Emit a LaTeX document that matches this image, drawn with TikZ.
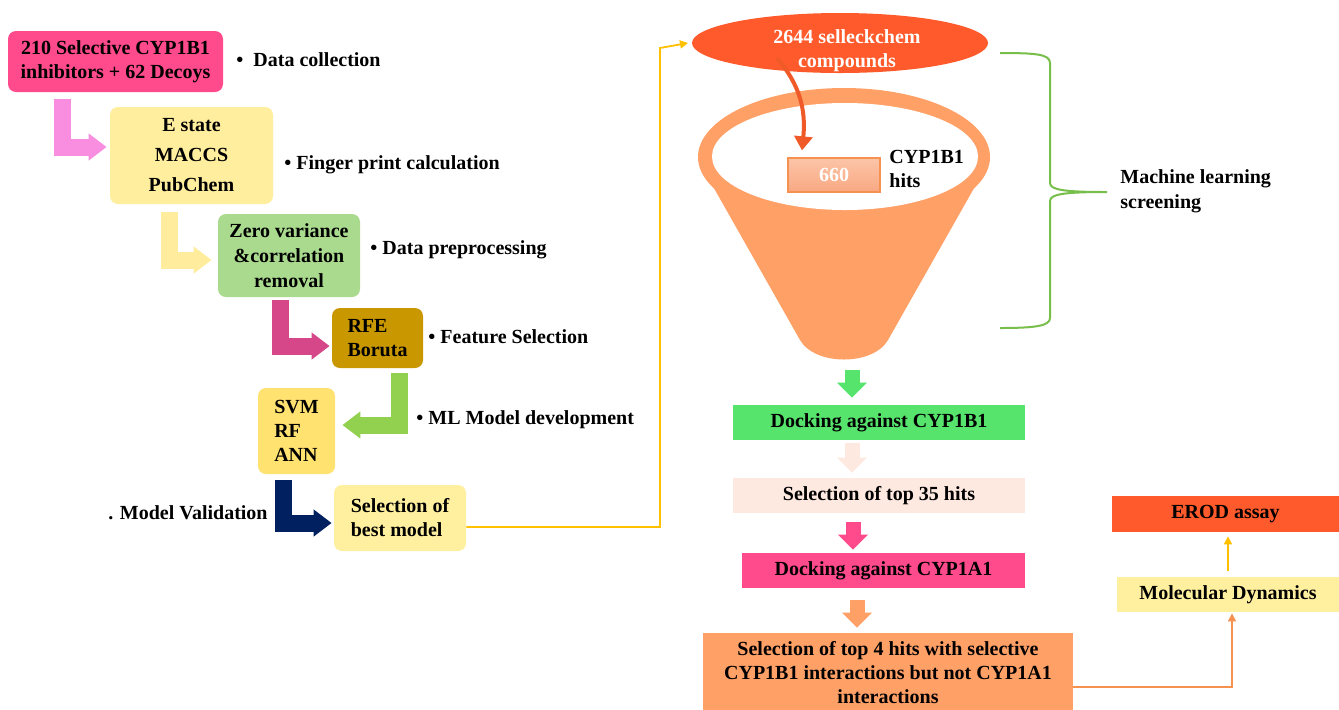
\documentclass[tikz,border=0pt]{standalone}
\usepackage{fontspec}
\setmainfont{Liberation Serif}
\usetikzlibrary{arrows.meta,calc,shapes.geometric}
\definecolor{pinkbox}{HTML}{FF4A8C}
\definecolor{lyellow}{HTML}{FFEE9E}
\definecolor{lgreen}{HTML}{A9DA8E}
\definecolor{gold}{HTML}{C99700}
\definecolor{myellow}{HTML}{FFE270}
\definecolor{pyellow}{HTML}{FFF0A0}
\definecolor{pinkarrow}{HTML}{F98EE0}
\definecolor{yarrow}{HTML}{FFEC9C}
\definecolor{magarrow}{HTML}{D6478A}
\definecolor{garrow}{HTML}{92D050}
\definecolor{navy}{HTML}{002060}
\definecolor{redorange}{HTML}{FF5A2B}
\definecolor{funnel}{HTML}{FFA067}
\definecolor{dockgreen}{HTML}{57E46D}
\definecolor{peach}{HTML}{FDE9E0}
\definecolor{bracegreen}{HTML}{78BE4A}
\definecolor{amber}{HTML}{FFC000}
\definecolor{curvearrow}{HTML}{EF5A28}
\definecolor{orangeline}{HTML}{F79150}
\definecolor{salmontop}{HTML}{FCC5A8}
\definecolor{salmonbot}{HTML}{F9A882}
\begin{document}
\begin{tikzpicture}[x=0.5pt,y=-0.5pt,
  font=\bfseries\fontsize{10}{12}\selectfont,
  box/.style={rounded corners=4pt, inner sep=0pt, align=center, text=black},
  flat/.style={inner sep=0pt, align=center, text=black},
  lbl/.style={inner sep=0pt, anchor=west, text=black},
  bent/.style={line width=8.5pt, line cap=butt, line join=miter, -{Triangle[width=13pt,length=9pt]}},
  down/.style={line width=7.5pt, line cap=butt, -{Triangle[width=14.5pt,length=7.5pt]}},
  thin/.style={line width=0.9pt, -{Triangle[width=4pt,length=4pt]}}]
\useasboundingbox (0,0) rectangle (1339,709);
\fill[white] (0,0) rectangle (1339,709);

% ---------- left pipeline ----------
\node[box, fill=pinkbox, minimum width=107.5pt, minimum height=30.5pt] (b1) at (115.5,61.5)
  {210 Selective CYP1B1\\inhibitors + 62 Decoys};
\node[box, fill=lyellow, minimum width=81.5pt, minimum height=48.5pt,
  font=\bfseries\fontsize{10}{15}\selectfont] (b2) at (191.5,155.5) {E state\\MACCS\\PubChem};
\node[box, fill=lgreen, minimum width=71pt, minimum height=41.5pt,
  font=\bfseries\fontsize{10}{12.5}\selectfont] (b3) at (289,255.5) {Zero variance\\\&correlation\\removal};
\node[box, fill=gold, minimum width=45.5pt, minimum height=30pt, align=left] (b4) at (377.5,338) {RFE\\Boruta};
\node[box, fill=myellow, minimum width=38.5pt, minimum height=43pt, align=left] (b5) at (296.5,431) {SVM\\RF\\ANN};
\node[box, fill=pyellow, minimum width=66pt, minimum height=33pt, align=left] (b6) at (400,518) {Selection of\\best model};

\node[lbl] (l1) at (236,60) {\textbullet\ \ Data collection};
\node[lbl] (l2) at (284,165) {\textbullet\ Finger print calculation};
\node[lbl] (l3) at (370,250) {\textbullet\ Data preprocessing};
\node[lbl] (l4) at (428,337) {\textbullet\ Feature Selection};
\node[lbl] (l5) at (416,420) {\textbullet\ ML Model development};
\node[lbl, anchor=east] (l6) at (268,513) {. Model Validation};

\draw[bent, draw=pinkarrow] ($(b1.south west)+(55,7)$) |- ($(b2.west)+(-3,-8.5)$);
\draw[bent, draw=yarrow] ($(b2.south west)+(60,8)$) |- ($(b3.west)+(-6,4.5)$);
\draw[bent, draw=magarrow] ($(b3.south west)+(63,3)$) |- ($(b4.west)+(-2,8)$);
\draw[bent, draw=garrow] ($(b4.south west)+(68,5)$) |- ($(b5.east)+(7,-6)$);
\draw[bent, draw=navy] ($(b5.south west)+(26,6)$) |- ($(b6.west)+(-2,5)$);

% ---------- funnel ----------
\fill[funnel] (698,160) -- (800,340) .. controls (815,366) and (873,366) .. (888,340) -- (990,160) -- cycle;
\fill[funnel] (844,157) ellipse [x radius=146, y radius=69];
\fill[white] (845,156.5) ellipse [x radius=133, y radius=53.5];
\coordinate (fbot) at (852,362);

\fill[redorange] (840,43) ellipse [x radius=148, y radius=30];
\node[inner sep=0pt, text=white, align=center] (ell) at (847,51) {2644 selleckchem\\compounds};
\coordinate (ellw) at (692,43);

\node[flat, draw=orangeline, line width=0.6pt, top color=salmontop, bottom color=salmonbot,
  minimum width=46pt, minimum height=17pt, text=white] (r660) at (834,175) {660};
\node[lbl, align=left] (hits) at (889,169) {CYP1B1\\hits};

\coordinate (cstart) at (777,58);
\draw[line width=2pt, curvearrow, -{Triangle[width=9pt,length=7pt]}]
  (cstart) .. controls (800,85) and (806,110) .. ($(r660.north)+(-32,-7)$);

% brace
\draw[bracegreen, line width=1pt]
  (1000,53) .. controls (1035,53) and (1050,54) .. (1050,63) -- (1050,183)
  .. controls (1050,190) and (1065,192) .. (1107,192)
  .. controls (1065,192) and (1050,194) .. (1050,201) -- (1050,318)
  .. controls (1050,326) and (1035,328) .. (1000,328);
\node[lbl, align=left, font=\bfseries\fontsize{10}{12.5}\selectfont] (ml) at (1120,191) {Machine learning\\screening};

% ---------- right pipeline ----------
\node[flat, fill=dockgreen, minimum width=146pt, minimum height=17.5pt] (d1) at (879,422.5) {Docking against CYP1B1};
\node[flat, fill=peach, minimum width=146pt, minimum height=17.5pt] (s35) at (879,495.5) {Selection of top 35 hits};
\node[flat, fill=pinkbox, minimum width=141.5pt, minimum height=17.5pt] (d2) at (883.5,570.5) {Docking against CYP1A1};
\node[flat, fill=funnel, minimum width=185pt, minimum height=39.5pt] (s4) at (888,672.5)
  {Selection of top 4 hits with selective\\CYP1B1 interactions but not CYP1A1\\interactions};
\node[flat, fill=pyellow, minimum width=111pt, minimum height=17.5pt] (md) at (1228,594.5) {Molecular Dynamics};
\node[flat, fill=redorange, minimum width=113.5pt, minimum height=18pt] (erod) at (1225.5,514) {EROD assay};

\draw[down, draw=dockgreen] ($(fbot)+(0,8)$) -- ($(d1.north)+(-27,-7)$);
\draw[down, draw=peach] ($(d1.south)+(-27,3)$) -- ($(s35.north)+(-27,-5)$);
\draw[down, draw=pinkbox] ($(s35.south)+(-26,9)$) -- ($(d2.north)+(-30.5,-3)$);
\draw[down, draw=funnel] ($(d2.south)+(-26.5,12)$) -- ($(s4.north)+(-31,-5)$);

% ---------- thin connectors ----------
\draw[thin, amber] ($(b6.east)+(0,9)$) -- (660,527) -- (660,48) -- ($(ellw)+(-4,0)$);
\draw[thin, orangeline] ($(s4.east)+(0,14.5)$) -| ($(md.south)+(4,1)$);
\draw[thin, amber] ($(md.north)+(0,-6)$) -- ($(md.north |- erod.south)+(0,4)$);
\end{tikzpicture}
\end{document}
